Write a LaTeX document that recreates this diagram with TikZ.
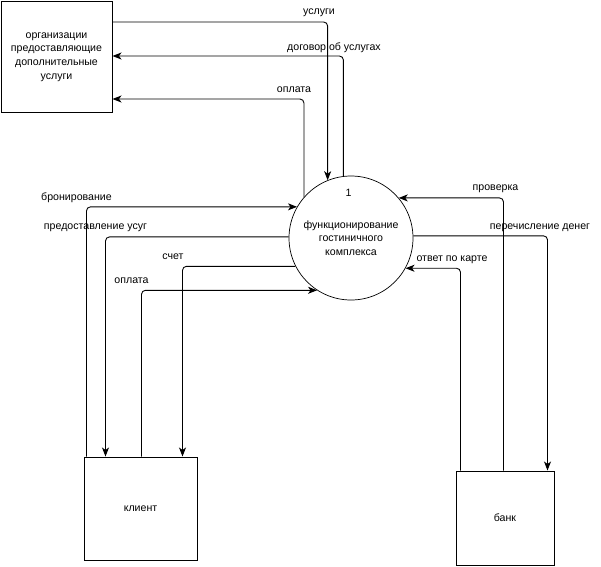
\documentclass[tikz,border=0pt]{standalone}
\usepackage{fontspec}
\setmainfont{Liberation Sans}
\usetikzlibrary{arrows.meta}

\tikzset{
	box/.style = {draw, line width = 1pt, align = center, inner sep = 0pt},
	proc/.style = {draw, circle, line width = 0.7pt, minimum size = 124pt, inner sep = 0pt, align = center},
	flow/.style = {line width = 0.9pt, rounded corners = 4pt},
	tip/.style = {-{Stealth[length = 9pt, width = 7pt, inset = 2.5pt]}},
	lbl/.style = {inner sep = 0pt}
}

\begin{document}
\begin{tikzpicture}[x = 1pt, y = -1pt, font = \fontsize{10.6}{13.7}\selectfont]
	\useasboundingbox (0,0) rectangle (601,566);
	\node[box, minimum width = 111pt, minimum height = 111pt] (org) at (56.5,57) {организации\\предоставляющие\\дополнительные\\услуги};
	\node[proc] (proc) at (351,238) {функционирование\\гостиничного\\комплекса};
	\node[lbl] (num) at (348.5,193) {1};
	\node[box, minimum width = 113pt, minimum height = 103pt] (client) at (140.5,508.5) {клиент};
	\node[box, minimum width = 98pt, minimum height = 94pt] (bank) at (505,518) {банк};

	\draw[flow, tip] ([yshift = -21pt]org.north east) -| (proc.112);
	\draw[flow, tip] (proc.97) |- ([yshift = -55pt]org.north east);
	\draw[flow, tip] (proc.139) |- ([yshift = -98pt]org.north east);
	\node[lbl] (l1) at (319,13) {услуги};
	\node[lbl] (l2) at (334,48) {договор об услугах};
	\node[lbl] (l3) at (294,90) {оплата};

	\draw[flow, tip] ([xshift = 3pt]client.north west) |- (proc.150);
	\draw[flow, tip] (proc.179) -| ([xshift = 22pt]client.north west);
	\draw[flow, tip] (proc.207) -| ([xshift = 99pt]client.north west);
	\draw[flow, tip] ([xshift = 58pt]client.north west) |- (proc.237);
	\node[lbl] (l4) at (76.5,198) {бронирование};
	\node[lbl] (l5) at (95.5,228) {предоставление усуг};
	\node[lbl] (l6) at (173,257) {счет};
	\node[lbl] (l7) at (131.5,281) {оплата};

	\draw[flow, tip] ([xshift = 48pt]bank.north west) |- (proc.40);
	\draw[flow, tip] (proc.2) -| ([xshift = 92pt]bank.north west);
	\draw[flow, tip] ([xshift = 5pt]bank.north west) |- (proc.331);
	\node[lbl] (l8) at (495.5,189) {проверка};
	\node[lbl] (l9) at (540,228) {перечисление денег};
	\node[lbl] (l10) at (452,260) {ответ по карте};
\end{tikzpicture}
\end{document}
